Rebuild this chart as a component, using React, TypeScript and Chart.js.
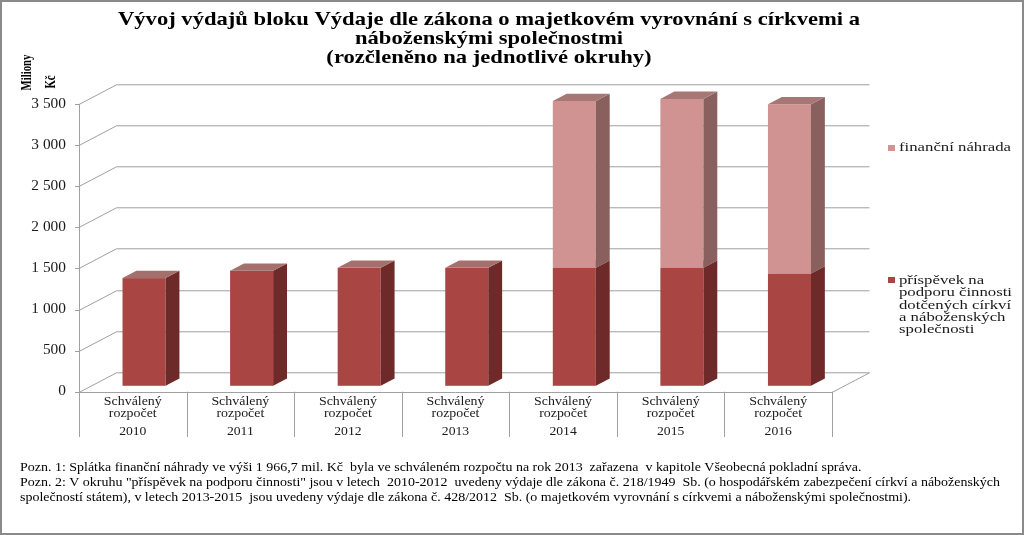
import React, { useEffect, useRef } from "react";
import { Chart, registerables } from "chart.js";

Chart.register(...registerables);

// ---------- data ----------
const titleLines = [
  "Vývoj výdajů bloku Výdaje dle zákona o majetkovém vyrovnání s církvemi a",
  "náboženskými společnostmi",
  "(rozčleněno na jednotlivé okruhy)",
];
const years = ["2010", "2011", "2012", "2013", "2014", "2015", "2016"];
const categoryLabel = ["Schválený", "rozpočet"];
const prispevek = [1310, 1400, 1435, 1435, 1435, 1435, 1365];
const nahrada = [0, 0, 0, 0, 2030, 2055, 2060];
const yTickValues = [0, 500, 1000, 1500, 2000, 2500, 3000, 3500];
const yTickLabels = ["0", "500", "1 000", "1 500", "2 000", "2 500", "3 000", "3 500"];
const yAxisTitle = ["Miliony", "Kč"];
const legendNahrada = ["finanční náhrada"];
const legendPrispevek = ["příspěvek na", "podporu činnosti", "dotčených církví", "a náboženských", "společnosti"];
const notes = [
  "Pozn. 1: Splátka finanční náhrady ve výši 1 966,7 mil. Kč  byla ve schváleném rozpočtu na rok 2013  zařazena  v kapitole Všeobecná pokladní správa.",
  "Pozn. 2: V okruhu \"příspěvek na podporu činnosti\" jsou v letech  2010-2012  uvedeny výdaje dle zákona č. 218/1949  Sb. (o hospodářském zabezpečení církví a náboženských",
  "společností státem), v letech 2013-2015  jsou uvedeny výdaje dle zákona č. 428/2012  Sb. (o majetkovém vyrovnání s církvemi a náboženskými společnostmi).",
];

// ---------- styles ----------
const RED = { front: "#A94643", side: "#6D2A28", top: "#A4706E" };
const PINK = { front: "#D09392", side: "#8A605F", top: "#A67775" };
const GRID = "#a0a0a0";
const DX = 37.5;
const DY = -19.7;
const F0 = 0.3;
const F1 = 0.67;
const SERIF = "'Liberation Serif', 'Times New Roman', serif";

function scaledText(ctx: CanvasRenderingContext2D, text: string, x: number, y: number, sx: number, align: CanvasTextAlign) {
  ctx.save();
  ctx.translate(x, y);
  ctx.scale(sx, 1);
  ctx.textAlign = align;
  ctx.fillText(text, 0, 0);
  ctx.restore();
}

const scenePlugin = {
  id: "scene3d",
  beforeDatasetsDraw(chart: any) {
    const ctx: CanvasRenderingContext2D = chart.ctx;
    const xs = chart.scales.x;
    const ys = chart.scales.y;
    const left = xs.left;
    const right = xs.right;
    const n = years.length;
    const catW = (right - left) / n;
    const y0 = ys.getPixelForValue(0);
    const axisBottom = 437;

    ctx.save();
    ctx.fillStyle = "#ffffff";
    ctx.fillRect(0, 0, chart.width, chart.height);

    // frame
    ctx.strokeStyle = "#8a8a8a";
    ctx.lineWidth = 2;
    ctx.strokeRect(1, 1, chart.width - 2, chart.height - 2);

    ctx.strokeStyle = GRID;
    ctx.lineWidth = 1;
    // back wall gridlines + left wall diagonals + ticks
    yTickValues.forEach((v) => {
      const py = Math.round(ys.getPixelForValue(v)) + 0.5;
      ctx.beginPath();
      ctx.moveTo(left + DX, py + DY);
      ctx.lineTo(right + DX, py + DY);
      ctx.moveTo(left, py);
      ctx.lineTo(left + DX, py + DY);
      ctx.moveTo(left - 4, py);
      ctx.lineTo(left, py);
      ctx.stroke();
    });
    // floor front edge and right side
    ctx.beginPath();
    ctx.moveTo(left, Math.round(y0) + 0.5);
    ctx.lineTo(right, Math.round(y0) + 0.5);
    ctx.moveTo(right, Math.round(y0) + 0.5);
    ctx.lineTo(right + DX, Math.round(y0) + 0.5 + DY);
    ctx.stroke();
    // front value axis
    ctx.beginPath();
    ctx.moveTo(Math.round(left) + 0.5, ys.top);
    ctx.lineTo(Math.round(left) + 0.5, axisBottom);
    ctx.stroke();
    // category separators
    for (let i = 0; i <= n; i++) {
      const sx = Math.round(left + i * catW) + 0.5;
      ctx.beginPath();
      ctx.moveTo(sx, y0);
      ctx.lineTo(sx, axisBottom);
      ctx.stroke();
    }

    // y tick labels
    ctx.fillStyle = "#1a1a1a";
    ctx.font = `14px ${SERIF}`;
    ctx.textBaseline = "middle";
    yTickValues.forEach((v, i) => {
      const py = ys.getPixelForValue(v);
      scaledText(ctx, yTickLabels[i], 66, py, 1.1, "right");
    });

    // category labels
    ctx.font = `13px ${SERIF}`;
    years.forEach((yr, i) => {
      const cx = xs.getPixelForValue(i);
      scaledText(ctx, categoryLabel[0], cx, 402, 1.07, "center");
      scaledText(ctx, categoryLabel[1], cx, 414, 1.07, "center");
      scaledText(ctx, yr, cx, 432, 1.05, "center");
    });

    // title
    ctx.fillStyle = "#000000";
    ctx.font = `bold 19px ${SERIF}`;
    const tw = ctx.measureText(titleLines[0]).width;
    const ts = 742 / tw;
    const tY = [20, 39, 58];
    titleLines.forEach((t, i) => scaledText(ctx, t, 489, tY[i], ts, "center"));

    // y axis title (rotated)
    ctx.font = `bold 14px ${SERIF}`;
    const mw = ctx.measureText(yAxisTitle[0]).width;
    const ms = 36 / mw;
    ctx.save();
    ctx.translate(27, 72.5);
    ctx.rotate(-Math.PI / 2);
    scaledText(ctx, yAxisTitle[0], 0, 0, ms, "center");
    ctx.restore();
    ctx.save();
    ctx.translate(51, 82);
    ctx.rotate(-Math.PI / 2);
    scaledText(ctx, yAxisTitle[1], 0, 0, ms, "center");
    ctx.restore();

    // legend
    ctx.font = `13px ${SERIF}`;
    const lw = ctx.measureText(legendPrispevek[1]).width;
    const ls = 113 / lw;
    ctx.fillStyle = PINK.front;
    ctx.fillRect(888, 145, 7, 6);
    ctx.fillStyle = "#1a1a1a";
    scaledText(ctx, legendNahrada[0], 899, 148, ls, "left");
    ctx.fillStyle = RED.front;
    ctx.fillRect(888, 277, 7, 6);
    ctx.fillStyle = "#1a1a1a";
    legendPrispevek.forEach((t, i) => scaledText(ctx, t, 899, 280.5 + i * 12.3, ls, "left"));

    // notes
    ctx.font = `12.5px ${SERIF}`;
    const nw = ctx.measureText(notes[1]).width;
    const ns = 980 / nw;
    ctx.fillStyle = "#000000";
    notes.forEach((t, i) => scaledText(ctx, t, 20, 468 + i * 14.8, ns, "left"));

    ctx.restore();
  },
  afterDatasetsDraw(chart: any) {
    const ctx: CanvasRenderingContext2D = chart.ctx;
    const styles = [RED, PINK];
    const ddx = DX * (F1 - F0);
    const ddy = DY * (F1 - F0);
    ctx.save();
    years.forEach((_, i) => {
      [0, 1].forEach((d) => {
        const meta = chart.getDatasetMeta(d);
        const el: any = meta.data[i];
        const val = chart.data.datasets[d].data[i] as number;
        if (!el || !val) return;
        const w = el.width;
        const l = el.x - w / 2 + DX * F0;
        const r = l + w;
        const t = el.y + DY * F0;
        const b = el.base + DY * F0;
        const st = styles[d];
        ctx.fillStyle = st.front;
        ctx.fillRect(l, t, w, b - t);
        ctx.fillStyle = st.side;
        ctx.beginPath();
        ctx.moveTo(r, t);
        ctx.lineTo(r + ddx, t + ddy);
        ctx.lineTo(r + ddx, b + ddy);
        ctx.lineTo(r, b);
        ctx.closePath();
        ctx.fill();
        ctx.fillStyle = st.top;
        ctx.beginPath();
        ctx.moveTo(l, t);
        ctx.lineTo(l + ddx, t + ddy);
        ctx.lineTo(r + ddx, t + ddy);
        ctx.lineTo(r, t);
        ctx.closePath();
        ctx.fill();
      });
    });
    ctx.restore();
  },
};

export default function App() {
  const ref = useRef<HTMLCanvasElement>(null);
  useEffect(() => {
    document.body.style.margin = "0";
    const canvas = ref.current!;
    const chart = new Chart(canvas, {
      type: "bar",
      data: {
        labels: years,
        datasets: [
          {
            label: legendPrispevek.join(" "),
            data: prispevek,
            backgroundColor: "rgba(0,0,0,0)",
            borderWidth: 0,
          },
          {
            label: legendNahrada[0],
            data: nahrada,
            backgroundColor: "rgba(0,0,0,0)",
            borderWidth: 0,
          },
        ],
      },
      options: {
        responsive: false,
        animation: false,
        devicePixelRatio: 1,
        layout: { padding: { left: 79, right: 192, top: 104, bottom: 143.3 } },
        datasets: { bar: { barPercentage: 0.4, categoryPercentage: 1.0 } },
        plugins: { legend: { display: false }, title: { display: false }, tooltip: { enabled: false } },
        scales: {
          x: { stacked: true, display: false },
          y: { stacked: true, display: false, min: 0, max: 3500 },
        },
      },
      plugins: [scenePlugin],
    });
    return () => chart.destroy();
  }, []);
  return (
    <div style={{ width: 1024, height: 535 }}>
      <canvas ref={ref} width={1024} height={535} style={{ display: "block" }} />
    </div>
  );
}
